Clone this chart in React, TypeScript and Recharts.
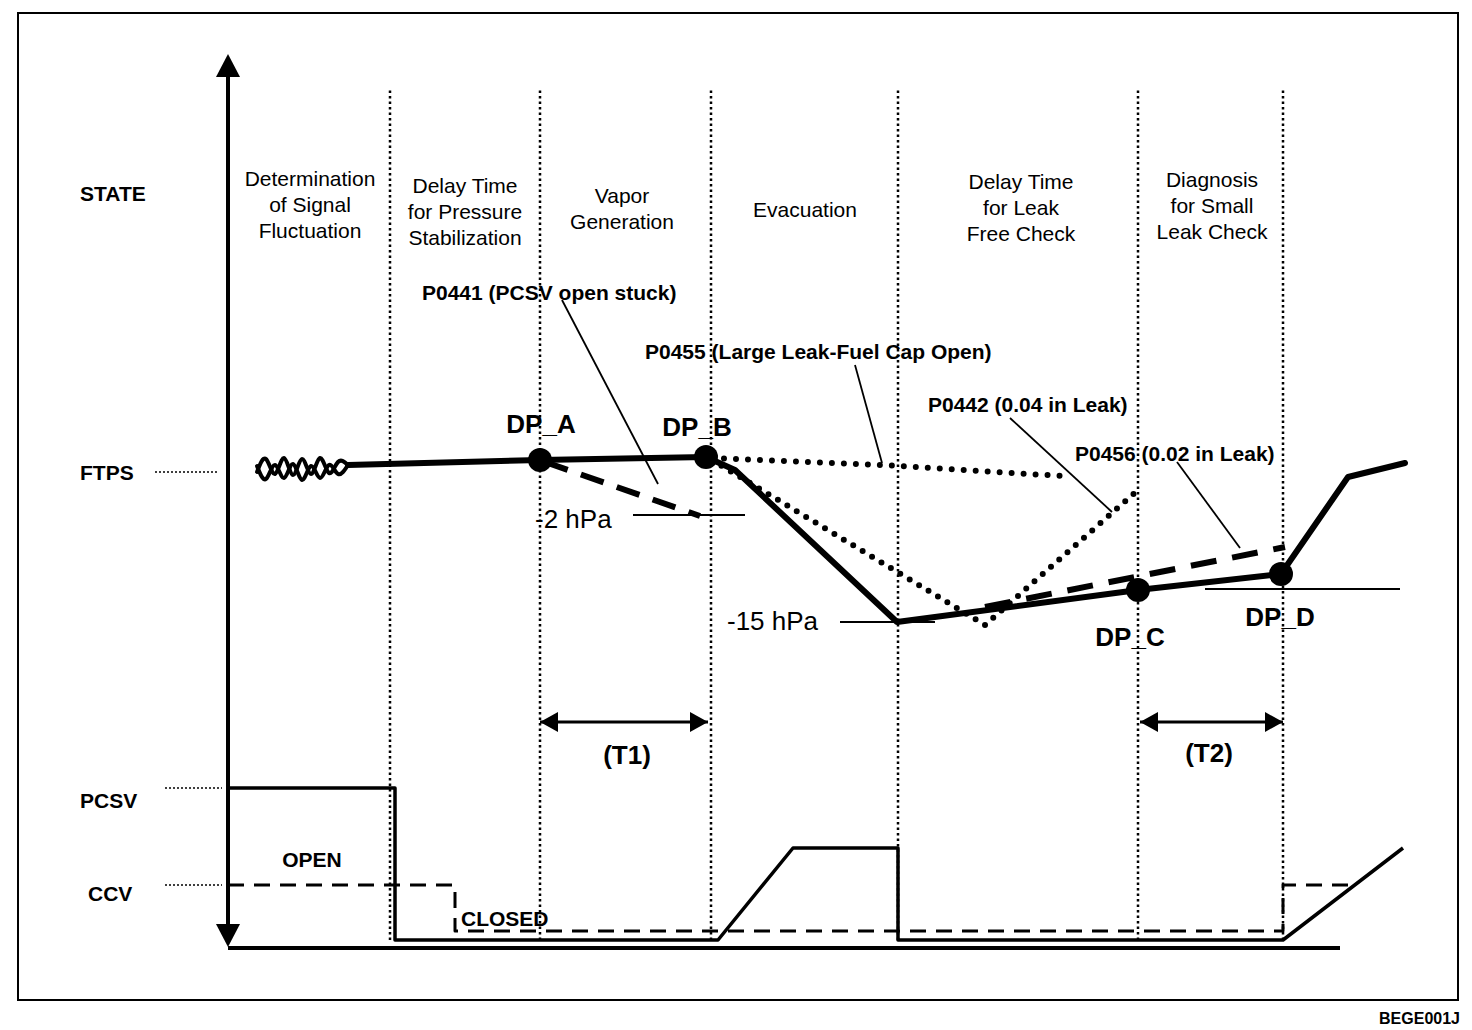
import { ComposedChart, Line, Scatter, XAxis, YAxis, ReferenceArea } from "recharts";

// t = time (arbitrary units, 0 at the STATE axis), v = level (arbitrary units, 0 at the base line)
const phaseBounds = [16.2, 31.2, 48.3, 67.0, 91.0, 105.5];
const phaseSpan = [0.8, 86];

const phaseTitles = [
  ["Determination", "of Signal", "Fluctuation"],
  ["Delay Time", "for Pressure", "Stabilization"],
  ["Vapor", "Generation"],
  ["Evacuation"],
  ["Delay Time", "for Leak", "Free Check"],
  ["Diagnosis", "for Small", "Leak Check"],
];
const phaseTitleT = [8.2, 23.7, 39.4, 57.7, 79.3, 98.4];
const phaseTitleV = [77.0, 76.3, 75.3, 73.9, 76.7, 76.9];

const rowNames = ["STATE", "FTPS", "PCSV", "CCV"];
const rowT = [-14.8, -14.8, -14.8, -14.0];
const rowV = [75.5, 47.6, 14.8, 5.5];
const rowMarkT = [[-7.3, -1.0], [-6.3, -0.6], [-6.3, -0.6]];
const rowMarkV = [47.6, 16.0, 6.3];

// fuel tank pressure, normal run
const ftpsT = [12.0, 31.2, 47.8, 50.7, 66.9, 91.0, 105.3, 112.0, 117.7];
const ftpsV = [48.3, 48.8, 49.1, 47.8, 32.6, 35.8, 37.4, 47.1, 48.5];
// signal fluctuation at the start
const waveT = [2.9, 3.8, 4.7, 5.6, 6.5, 7.4, 8.3, 9.2, 10.1, 11.0, 12.0];
const waveAV = [47.6, 48.9, 47.4, 49.0, 47.3, 48.9, 47.4, 49.0, 47.5, 48.6, 48.3];
const waveBV = [48.2, 46.9, 48.3, 47.0, 48.4, 46.8, 48.2, 47.0, 48.3, 47.4, 48.3];

// fault cases
const p0441T = [31.7, 47.2];
const p0441V = [48.6, 43.2];
const p0455T = [48.4, 65.4, 83.4];
const p0455V = [49.0, 48.3, 47.2];
const p0442T = [48.4, 75.7, 91.0];
const p0442V = [48.8, 32.3, 45.8];
const p0456T = [75.7, 105.7];
const p0456V = [34.1, 40.1];

const faultText = ["P0441 (PCSV open stuck)", "P0455 (Large Leak-Fuel Cap Open)", "P0442 (0.04 in Leak)", "P0456 (0.02 in Leak)"];
const faultT = [19.4, 41.7, 70.0, 84.7];
const faultV = [65.6, 59.7, 54.4, 49.5];
const leaderFromT = [33.4, 62.7, 78.2, 94.9];
const leaderFromV = [64.8, 58.3, 53.0, 48.6];
const leaderToT = [43.0, 65.4, 88.4, 101.2];
const leaderToV = [46.4, 48.5, 43.6, 40.0];

const dpNames = ["DP_A", "DP_B", "DP_C", "DP_D"];
const dpT = [31.2, 47.8, 91.0, 105.3];
const dpV = [48.8, 49.1, 35.8, 37.4];
const dpLabelT = [31.3, 46.9, 90.2, 105.2];
const dpLabelV = [52.4, 52.1, 31.1, 33.1];

const pressText = ["-2 hPa", "-15 hPa"];
const pressTextT = [30.7, 49.9];
const pressTextV = [42.9, 32.7];
const pressLineT = [[40.5, 51.7], [61.2, 70.7]];
const pressLineV = [43.3, 32.6];
const dpDLevelT = [97.7, 117.2];
const dpDLevelV = 35.9;

const timerNames = ["(T1)", "(T2)"];
const timerT = [[31.2, 48.0], [91.2, 105.5]];
const timerV = 22.6;
const timerLabelT = [39.9, 98.1];
const timerLabelV = [19.3, 19.5];

// valves
const pcsvT = [0, 16.7, 16.7, 49.0, 56.5, 67.0, 67.0, 105.5, 117.5];
const pcsvV = [16, 16, 0.8, 0.8, 10, 10, 0.8, 0.8, 10];
const ccvT = [0, 22.7, 22.7, 105.5, 105.5, 112.2];
const ccvV = [6.3, 6.3, 1.7, 1.7, 6.3, 6.3];
const valveText = ["OPEN", "CLOSED"];
const valveTextT = [8.4, 23.3];
const valveTextV = [8.9, 3.0];

const baseT = [0, 111.2];
const axisV = [0.6, 88.8];
const axisTipV = [89.4, 0.1];

const figureId = "BEGE001J";
const frameT = [-21, 123];
const frameV = [-5.2, 93.5];

const FONT = "'Liberation Sans', Arial, Helvetica, sans-serif";

const seg = (t: number[], v: number[]) => t.map((x, i) => ({ t: x, v: v[i] }));

const textShape = (size: number, bold: boolean, anchor: "start" | "middle" | "end", gap = 26) => (p: any) => {
  const lines: string[] = p.payload.lines;
  return (
    <text
      x={p.cx}
      y={p.cy}
      textAnchor={anchor}
      dominantBaseline="central"
      fontSize={size}
      fontWeight={bold ? "bold" : "normal"}
      fontFamily={FONT}
      fill="#000"
    >
      {lines.map((s, i) => (
        <tspan key={i} x={p.cx} dy={i === 0 ? 0 : gap}>
          {s}
        </tspan>
      ))}
    </text>
  );
};

const arrowShape = (len: number, half: number) => (p: any) => {
  const { cx, cy } = p;
  const d = p.payload.dir;
  let pts = "";
  if (d === "up") pts = `${cx},${cy} ${cx - half},${cy + len} ${cx + half},${cy + len}`;
  if (d === "down") pts = `${cx},${cy} ${cx - half},${cy - len} ${cx + half},${cy - len}`;
  if (d === "left") pts = `${cx},${cy} ${cx + len},${cy - half} ${cx + len},${cy + half}`;
  if (d === "right") pts = `${cx},${cy} ${cx - len},${cy - half} ${cx - len},${cy + half}`;
  return <polygon points={pts} fill="#000" />;
};

const dotShape = (p: any) => <circle cx={p.cx} cy={p.cy} r={12} fill="#000" />;

export default function App() {
  const line = (key: string, data: any[], w: number, dash?: string, cap: "butt" | "round" = "butt", type: any = "linear") => (
    <Line
      key={key}
      data={data}
      dataKey="v"
      type={type}
      stroke="#000"
      strokeWidth={w}
      strokeDasharray={dash}
      strokeLinecap={cap}
      strokeLinejoin="round"
      dot={false}
      activeDot={false}
      legendType="none"
      isAnimationActive={false}
    />
  );

  const titleData = phaseTitles.map((lines, i) => ({ t: phaseTitleT[i], v: phaseTitleV[i], lines }));
  const rowData = rowNames.map((s, i) => ({ t: rowT[i], v: rowV[i], lines: [s] }));
  const faultData = faultText.map((s, i) => ({ t: faultT[i], v: faultV[i], lines: [s] }));
  const dpData = dpNames.map((_, i) => ({ t: dpT[i], v: dpV[i] }));
  const dpLabelData = dpNames.map((s, i) => ({ t: dpLabelT[i], v: dpLabelV[i], lines: [s] }));
  const pressData = pressText.map((s, i) => ({ t: pressTextT[i], v: pressTextV[i], lines: [s] }));
  const timerData = timerNames.map((s, i) => ({ t: timerLabelT[i], v: timerLabelV[i], lines: [s] }));
  const openData = [{ t: valveTextT[0], v: valveTextV[0], lines: [valveText[0]] }];
  const closedData = [{ t: valveTextT[1], v: valveTextV[1], lines: [valveText[1]] }];
  const idData = [{ t: frameT[1] + 0.2, v: -7.0, lines: [figureId] }];
  const axisTips = [
    { t: 0, v: axisTipV[0], dir: "up" },
    { t: 0, v: axisTipV[1], dir: "down" },
  ];
  const timerTips = timerT.flatMap(([a, b]) => [
    { t: a, v: timerV, dir: "left" },
    { t: b, v: timerV, dir: "right" },
  ]);

  return (
    <div style={{ position: "absolute", left: 0, top: 0, background: "#fff" }}>
      <ComposedChart width={1472} height={1030} margin={{ top: 0, right: 0, bottom: 0, left: 0 }}>
        <XAxis type="number" dataKey="t" domain={[-22.8, 124.4]} hide allowDataOverflow />
        <YAxis type="number" dataKey="v" domain={[-8.2, 94.8]} hide allowDataOverflow />
        <ReferenceArea x1={frameT[0]} x2={frameT[1]} y1={frameV[0]} y2={frameV[1]} fill="none" stroke="#000" strokeWidth={2} fillOpacity={0} />

        {phaseBounds.map((b, i) => line(`pb${i}`, seg([b, b], phaseSpan), 2.5, "2.5 3"))}
        {rowMarkT.map((tt, i) => line(`rm${i}`, seg(tt, [rowMarkV[i], rowMarkV[i]]), 1.5, "2 2"))}

        {line("axis", seg([0, 0], axisV), 4)}
        {line("base", seg(baseT, [0, 0]), 4)}

        {pressLineT.map((tt, i) => line(`pl${i}`, seg(tt, [pressLineV[i], pressLineV[i]]), 2))}
        {line("dpd", seg(dpDLevelT, [dpDLevelV, dpDLevelV]), 2)}
        {leaderFromT.map((_, i) =>
          line(`ld${i}`, seg([leaderFromT[i], leaderToT[i]], [leaderFromV[i], leaderToV[i]]), 1.8)
        )}

        {line("p0455", seg(p0455T, p0455V), 6, "0 12", "round")}
        {line("p0442", seg(p0442T, p0442V), 6, "0 11", "round")}
        {line("p0441", seg(p0441T, p0441V), 6, "24 14")}
        {line("p0456", seg(p0456T, p0456V), 6, "26 16")}

        {line("waveA", seg(waveT, waveAV), 4, undefined, "round", "natural")}
        {line("waveB", seg(waveT, waveBV), 4, undefined, "round", "natural")}
        {line("ftps", seg(ftpsT, ftpsV), 6, undefined, "round")}

        {line("pcsv", seg(pcsvT, pcsvV), 3.5)}
        {line("ccv", seg(ccvT, ccvV), 3, "16 10")}

        {timerT.map((tt, i) => line(`tm${i}`, seg(tt, [timerV, timerV]), 3))}

        <Scatter data={dpData} shape={dotShape} isAnimationActive={false} legendType="none" />
        <Scatter data={axisTips} shape={arrowShape(23, 12)} isAnimationActive={false} legendType="none" />
        <Scatter data={timerTips} shape={arrowShape(18, 10)} isAnimationActive={false} legendType="none" />

        <Scatter data={titleData} shape={textShape(21, false, "middle")} isAnimationActive={false} legendType="none" />
        <Scatter data={rowData} shape={textShape(21, true, "start")} isAnimationActive={false} legendType="none" />
        <Scatter data={faultData} shape={textShape(21, true, "start")} isAnimationActive={false} legendType="none" />
        <Scatter data={dpLabelData} shape={textShape(26, true, "middle")} isAnimationActive={false} legendType="none" />
        <Scatter data={pressData} shape={textShape(26, false, "start")} isAnimationActive={false} legendType="none" />
        <Scatter data={timerData} shape={textShape(26, true, "middle")} isAnimationActive={false} legendType="none" />
        <Scatter data={openData} shape={textShape(21, true, "middle")} isAnimationActive={false} legendType="none" />
        <Scatter data={closedData} shape={textShape(21, true, "start")} isAnimationActive={false} legendType="none" />
        <Scatter data={idData} shape={textShape(16, true, "end")} isAnimationActive={false} legendType="none" />
      </ComposedChart>
    </div>
  );
}
